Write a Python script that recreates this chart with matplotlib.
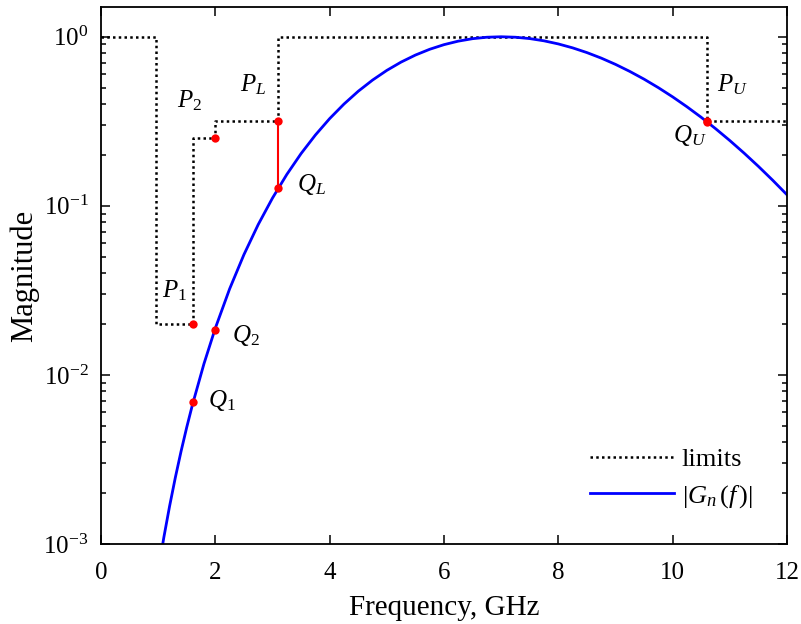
import matplotlib
matplotlib.use('Agg')
import matplotlib.pyplot as plt
from matplotlib.ticker import LogLocator, NullFormatter

plt.rcParams['font.family'] = ['Liberation Serif', 'DejaVu Serif']
plt.rcParams['mathtext.fontset'] = 'custom'
plt.rcParams['mathtext.rm'] = 'Liberation Serif'
plt.rcParams['mathtext.it'] = 'Liberation Serif:italic'
plt.rcParams['mathtext.bf'] = 'Liberation Serif:bold'
plt.rcParams['axes.unicode_minus'] = False

# spectrum |G_n(f)|
freq = [1.0, 1.1, 1.2, 1.3, 1.4, 1.5, 1.6, 1.8, 2.0, 2.25, 2.5, 2.75, 3.0, 3.25,
        3.5, 3.75, 4.0, 4.25, 4.5, 4.75, 5.0, 5.25, 5.5, 5.75, 6.0, 6.25, 6.5,
        6.75, 7.0, 7.25, 7.5, 7.75, 8.0, 8.25, 8.5, 8.75, 9.0, 9.25, 9.5, 9.75,
        10.0, 10.25, 10.5, 10.75, 11.0, 11.25, 11.5, 11.75, 12.0]
gmag = [6.89e-4, 1.098e-3, 1.676e-3, 2.470e-3, 3.528e-3, 4.907e-3, 6.670e-3,
        0.01161, 0.01891, 0.03228, 0.05145, 0.07751, 0.1112, 0.1533, 0.2038,
        0.2623, 0.3281, 0.3998, 0.4762, 0.5543, 0.6327, 0.7085, 0.7794, 0.8433,
        0.8981, 0.9421, 0.9742, 0.9936, 1.0, 0.9937, 0.9754, 0.9461, 0.9070,
        0.8598, 0.8062, 0.7479, 0.6866, 0.6238, 0.5613, 0.4999, 0.4410, 0.3854,
        0.3338, 0.2862, 0.2433, 0.2050, 0.1712, 0.1417, 0.1163]

# emission mask (steps)
mask_f = [0, 0.96, 0.96, 1.61, 1.61, 1.99, 1.99, 3.1, 3.1, 10.6, 10.6, 12]
mask_v = [1.0, 1.0, 0.02, 0.02, 0.251, 0.251, 0.316, 0.316, 1.0, 1.0, 0.316, 0.316]

# marked points
pts_f = [1.61, 1.99, 3.1, 10.6, 1.61, 1.99, 3.1, 10.6]
pts_v = [0.02, 0.251, 0.316, 0.316, 0.00687, 0.01848, 0.1271, 0.3143]

labels = ['$P_1$', '$P_2$', '$P_L$', '$P_U$', '$Q_1$', '$Q_2$', '$Q_L$', '$Q_U$']
lab_f = [1.07, 1.33, 2.43, 10.78, 1.87, 2.29, 3.43, 10.0]
lab_v = [0.0288, 0.383, 0.476, 0.476, 0.00643, 0.01557, 0.122, 0.2375]

fig = plt.figure(figsize=(8.01, 6.24), dpi=100)
ax = fig.add_axes([0.1261, 0.1282, 0.8564, 0.8606])

ax.plot(mask_f, mask_v, color='black', linestyle=(0, (1, 1.3)), linewidth=1.8, label='limits')
ax.plot(freq, gmag, color='#0000ff', linewidth=2.0, label='$|G_{n}\\,(f\\,)|$')
ax.plot([3.1, 3.1], [0.316, 0.1271], color='red', linewidth=1.5)
ax.plot(pts_f, pts_v, 'o', color='red', markersize=6, markeredgewidth=0)

for s, x, y in zip(labels, lab_f, lab_v):
    ax.text(x, y, s, fontsize=18, ha='left', va='baseline')

ax.set_yscale('log')
ax.set_xlim(0, 12)
ax.set_ylim(1e-3, 1.5)
ax.set_xticks([0, 2, 4, 6, 8, 10, 12])
ax.yaxis.set_major_locator(LogLocator(base=10, numticks=10))
ax.yaxis.set_minor_locator(LogLocator(base=10, subs=range(2, 10), numticks=20))
ax.yaxis.set_minor_formatter(NullFormatter())
ax.tick_params(which='both', direction='in', top=True, right=True, labelsize=18, width=1.1)
ax.tick_params(which='major', length=6.5)
ax.tick_params(axis='x', which='major', pad=13)
ax.tick_params(axis='y', which='major', pad=9)
ax.tick_params(which='minor', length=3.5)
for sp in ax.spines.values():
    sp.set_linewidth(1.3)

ax.set_xlabel('Frequency, GHz', fontsize=21, labelpad=8)
ax.set_ylabel('Magnitude', fontsize=22, labelpad=3)

leg = ax.legend(loc='lower right', frameon=False, fontsize=19, handlelength=3.2,
                labelspacing=0.45, handletextpad=0.3, borderaxespad=0.9)

fig.savefig('out.png', dpi=100)
